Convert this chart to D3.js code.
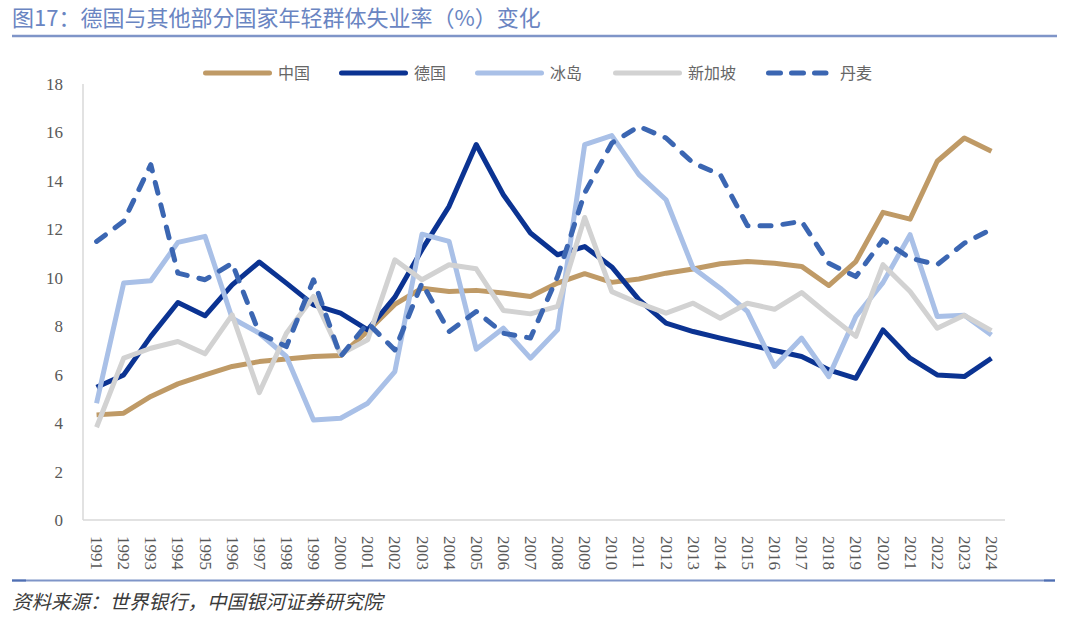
<!DOCTYPE html>
<html>
<head>
<meta charset="utf-8">
<script src="https://cdn.jsdelivr.net/npm/d3@7"></script>
<style>
  html, body { margin: 0; padding: 0; background: #fff; }
  svg { display: block; }
</style>
</head>
<body>
<svg id="chart" width="1080" height="632"></svg>
<script>
//
// Data
//
var years = [1991, 1992, 1993, 1994, 1995, 1996, 1997, 1998, 1999, 2000,
             2001, 2002, 2003, 2004, 2005, 2006, 2007, 2008, 2009, 2010,
             2011, 2012, 2013, 2014, 2015, 2016, 2017, 2018, 2019, 2020,
             2021, 2022, 2023, 2024];

var china = [4.34, 4.41, 5.1, 5.62, 5.99, 6.34, 6.54, 6.65, 6.75, 6.79,
             7.8, 8.9, 9.57, 9.43, 9.48, 9.37, 9.23, 9.78, 10.17, 9.81,
             9.95, 10.19, 10.36, 10.58, 10.67, 10.6, 10.47, 9.68, 10.67, 12.7,
             12.42, 14.81, 15.77, 15.22];

var germany = [5.48, 5.99, 7.58, 8.98, 8.43, 9.71, 10.65, 9.78, 8.88, 8.54,
               7.85, 9.2, 11.16, 12.95, 15.5, 13.43, 11.85, 10.95, 11.29, 10.45,
               9.1, 8.13, 7.78, 7.51, 7.25, 7.0, 6.75, 6.2, 5.85, 7.85,
               6.68, 5.99, 5.92, 6.68];

var iceland = [4.82, 9.78, 9.88, 11.46, 11.71, 8.33, 7.71, 6.75, 4.13, 4.2,
               4.82, 6.13, 11.8, 11.5, 7.05, 7.92, 6.68, 7.85, 15.5, 15.87,
               14.26, 13.22, 10.4, 9.57, 8.61, 6.34, 7.51, 5.92, 8.4, 9.8,
               11.78, 8.4, 8.45, 7.64];

var singapore = [3.83, 6.68, 7.09, 7.37, 6.86, 8.47, 5.26, 7.71, 9.23, 6.85,
                 7.44, 10.74, 9.92, 10.54, 10.37, 8.65, 8.51, 8.82, 12.49, 9.43,
                 8.95, 8.54, 8.95, 8.33, 8.95, 8.7, 9.39, 8.47, 7.58, 10.54,
                 9.43, 7.92, 8.45, 7.82];

var denmark = [11.5, 12.33, 14.67, 10.19, 9.92, 10.6, 7.71, 7.16, 9.92, 6.75,
               8.13, 7.02, 9.78, 7.78, 8.61, 7.71, 7.51, 10.05, 13.5, 15.56,
               16.25, 15.77, 14.74, 14.26, 12.15, 12.15, 12.33, 10.6, 10.05, 11.57,
               10.81, 10.54, 11.43, 12.0];

var names = ['中国', '德国', '冰岛', '新加坡', '丹麦'];
var yTicks = [0, 2, 4, 6, 8, 10, 12, 14, 16, 18];

var title = '图17：德国与其他部分国家年轻群体失业率（%）变化';
var source = '资料来源：世界银行，中国银河证券研究院';

//
// Styles
//
var colors = ['#bf9a66', '#0b3392', '#a9c0e7', '#d2d2d2', '#3b66b2'];
var dashed = [false, false, false, false, true];
var frameColor = '#7f95c8';
var numFont = '"Liberation Serif", "DejaVu Serif", serif';
var cjkFont = '"Noto Sans CJK SC", "Noto Sans", sans-serif';

var series = [china, germany, iceland, singapore, denmark].map(function (vals, i) {
    return { name: names[i], values: vals, color: colors[i], dashed: dashed[i] };
});

//
// Chart
//
function drawChart() {
    var svg = d3.select('#chart');

    var plotLeft = 83, plotRight = 1005, plotTop = 84, plotBottom = 520;

    var x = d3.scalePoint().domain(years).range([plotLeft, plotRight]).padding(0.5);
    var y = d3.scaleLinear().domain([0, 18]).range([plotBottom, plotTop]);

    // header
    svg.append('text')
        .attr('x', 12).attr('y', 26)
        .style('font-family', cjkFont).style('font-size', '22px')
        .style('fill', '#6a85c2')
        .text(title);

    svg.append('line')
        .attr('x1', 12).attr('x2', 1057).attr('y1', 36).attr('y2', 36)
        .style('stroke', frameColor).style('stroke-width', 2.5);

    // footer
    svg.append('line')
        .attr('x1', 12).attr('x2', 1055).attr('y1', 580.5).attr('y2', 580.5)
        .style('stroke', frameColor).style('stroke-width', 2);
    svg.append('line')
        .attr('x1', 12).attr('x2', 26).attr('y1', 580.5).attr('y2', 580.5)
        .style('stroke', '#4f6fb3').style('stroke-width', 2);
    svg.append('line')
        .attr('x1', 1044).attr('x2', 1055).attr('y1', 580.5).attr('y2', 580.5)
        .style('stroke', '#4f6fb3').style('stroke-width', 2);

    svg.append('text')
        .attr('x', 12).attr('y', 609)
        .style('font-family', cjkFont).style('font-size', '19.5px')
        .style('font-style', 'italic')
        .style('fill', '#3a3a3a')
        .text(source);

    // axes
    var yAxis = svg.append('g')
        .attr('transform', 'translate(' + plotLeft + ',0)')
        .call(d3.axisLeft(y).tickValues(yTicks).tickSize(0).tickPadding(20));

    yAxis.select('.domain').remove();
    yAxis.selectAll('text')
        .style('font-family', numFont).style('font-size', '17px')
        .style('fill', '#595959');

    var xAxis = svg.append('g')
        .attr('transform', 'translate(0,' + plotBottom + ')')
        .call(d3.axisBottom(x).tickSize(0));

    xAxis.select('.domain').remove();
    xAxis.selectAll('text')
        .attr('transform', 'rotate(90)')
        .attr('x', 16).attr('y', 0).attr('dy', '0.35em')
        .style('text-anchor', 'start')
        .style('font-family', numFont).style('font-size', '17px')
        .style('fill', '#595959');

    svg.append('line')
        .attr('x1', plotLeft).attr('x2', plotLeft).attr('y1', plotTop).attr('y2', plotBottom)
        .style('stroke', '#d9d9d9').style('stroke-width', 1.5);
    svg.append('line')
        .attr('x1', plotLeft).attr('x2', plotRight).attr('y1', plotBottom).attr('y2', plotBottom)
        .style('stroke', '#d9d9d9').style('stroke-width', 1.5);

    // lines
    var line = d3.line()
        .x(function (d, i) { return x(years[i]); })
        .y(function (d) { return y(d); });

    svg.append('g')
        .selectAll('path')
        .data(series)
        .enter()
        .append('path')
        .attr('d', function (d) { return line(d.values); })
        .style('fill', 'none')
        .style('stroke', function (d) { return d.color; })
        .style('stroke-width', 5)
        .style('stroke-linejoin', 'round')
        .style('stroke-linecap', function (d) { return d.dashed ? 'round' : 'butt'; })
        .style('stroke-dasharray', function (d) { return d.dashed ? '11,12' : null; });

    // legend
    var legendX = [203, 339, 475, 613, 766];
    var legendY = 73;

    var item = svg.append('g')
        .selectAll('g')
        .data(series)
        .enter()
        .append('g')
        .attr('transform', function (d, i) { return 'translate(' + legendX[i] + ',' + legendY + ')'; });

    item.append('line')
        .attr('x1', 2.5).attr('x2', function (d) { return d.dashed ? 60 : 66.5; })
        .style('stroke', function (d) { return d.color; })
        .style('stroke-width', 5)
        .style('stroke-linecap', 'round')
        .style('stroke-dasharray', function (d) { return d.dashed ? '12,11' : null; });

    item.append('text')
        .attr('x', function (d) { return d.dashed ? 74 : 75; })
        .attr('dy', '0.35em')
        .style('font-family', cjkFont).style('font-size', '16px')
        .style('fill', '#666')
        .text(function (d) { return d.name; });
}

drawChart();
</script>
</body>
</html>
